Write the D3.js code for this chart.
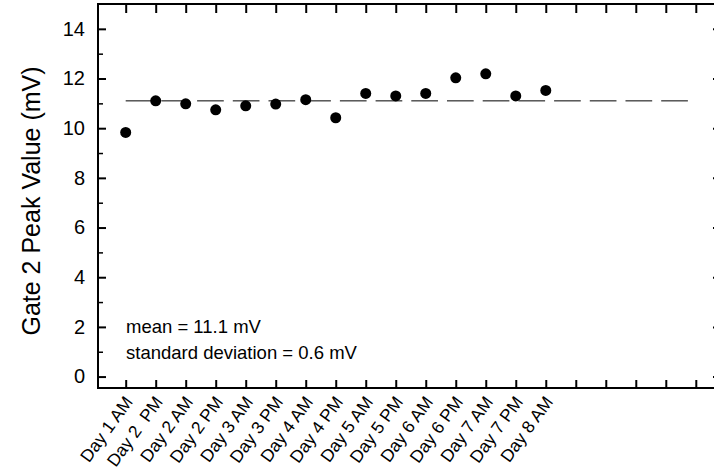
<!DOCTYPE html>
<html><head><meta charset="utf-8">
<script src="https://cdn.jsdelivr.net/npm/d3@7"></script>
<style>
body{margin:0;background:#fff;}
text{font-family:"Liberation Sans",Arial,sans-serif;fill:#000;}
</style></head>
<body><svg id="c" width="714" height="475"></svg>
<script>
const categories = ["Day 1 AM","Day 2  PM","Day 2 AM","Day 2 PM","Day 3 AM","Day 3 PM","Day 4 AM","Day 4 PM","Day 5 AM","Day 5 PM","Day 6 AM","Day 6 PM","Day 7 AM","Day 7 PM","Day 8 AM"];
const peakValues = [9.83,11.10,10.98,10.74,10.90,10.97,11.15,10.42,11.40,11.30,11.40,12.03,12.19,11.30,11.52];
const meanValue = 11.1;
const meanSpan = [1, 19.74];
const yTicks = [0,2,4,6,8,10,12,14];
const yMinorTicks = [1,3,5,7,9,11,13];
const xTickCount = 20;
const annotations = ["mean = 11.1 mV","standard deviation = 0.6 mV"];
const yTitle = "Gate 2 Peak Value (mV)";

const L=98, R=721, T=4, B=388;
const svg=d3.select("#c");
const x=d3.scaleLinear().domain([0.077,20.84]).range([L,R]);
const y=d3.scaleLinear().domain([-0.46,15]).range([B,T]);

svg.append("rect").attr("x",L).attr("y",T).attr("width",R-L).attr("height",B-T)
  .attr("fill","none").attr("stroke","#000").attr("stroke-width",2);

const xt=d3.range(1,xTickCount+1);
const bx=d3.axisBottom(x).tickValues(xt).tickSize(-8).tickFormat("");
const gb=svg.append("g").attr("transform",`translate(0,${B})`).call(bx);
const tx=d3.axisTop(x).tickValues(xt).tickSize(-9).tickFormat("");
const gt=svg.append("g").attr("transform",`translate(0,${T})`).call(tx);
[gb,gt].forEach(g=>{g.select(".domain").remove();g.selectAll("line").attr("stroke","#000").attr("stroke-width",2);});

const ly=d3.axisLeft(y).tickValues(yTicks).tickSize(-8).tickPadding(13).tickFormat(d3.format("d"));
const gl=svg.append("g").attr("transform",`translate(${L},0)`).call(ly);
gl.select(".domain").remove();
gl.selectAll("line").attr("stroke","#000").attr("stroke-width",2);
gl.selectAll("text").style("font-size","20px").attr("font-family",null);
const lym=d3.axisLeft(y).tickValues(yMinorTicks).tickSize(-5).tickFormat("");
const glm=svg.append("g").attr("transform",`translate(${L},0)`).call(lym);
glm.select(".domain").remove();
glm.selectAll("line").attr("stroke","#000").attr("stroke-width",1.5);
const ry=d3.axisRight(y).tickValues(yTicks).tickSize(-8).tickFormat("");
const gr=svg.append("g").attr("transform",`translate(${R},0)`).call(ry);
gr.select(".domain").remove();
gr.selectAll("line").attr("stroke","#000").attr("stroke-width",2);
const rym=d3.axisRight(y).tickValues(yMinorTicks).tickSize(-5).tickFormat("");
const grm=svg.append("g").attr("transform",`translate(${R},0)`).call(rym);
grm.select(".domain").remove();
grm.selectAll("line").attr("stroke","#000").attr("stroke-width",1.5);

svg.append("g").selectAll("text").data(categories).join("text")
  .attr("transform",(d,i)=>`translate(${x(i+1)+8},${B+14}) rotate(-54)`)
  .attr("text-anchor","end")
  .style("font-size","17.5px").style("white-space","pre").text(d=>d);

svg.append("line").attr("x1",x(meanSpan[0])).attr("x2",x(meanSpan[1]))
  .attr("y1",y(meanValue)).attr("y2",y(meanValue))
  .attr("stroke","#000").attr("stroke-width",1).attr("stroke-dasharray","26.7 9");

svg.append("g").selectAll("circle").data(peakValues).join("circle")
  .attr("cx",(d,i)=>x(i+1)).attr("cy",d=>y(d)).attr("r",5.5).attr("fill","#000");

svg.append("g").selectAll("text").data(annotations).join("text")
  .attr("x",126).attr("y",(d,i)=>333+i*26).style("font-size","18.5px").text(d=>d);

svg.append("text").attr("transform",`translate(40,201) rotate(-90)`)
  .attr("text-anchor","middle").style("font-size","25px").text(yTitle);
</script></body></html>
